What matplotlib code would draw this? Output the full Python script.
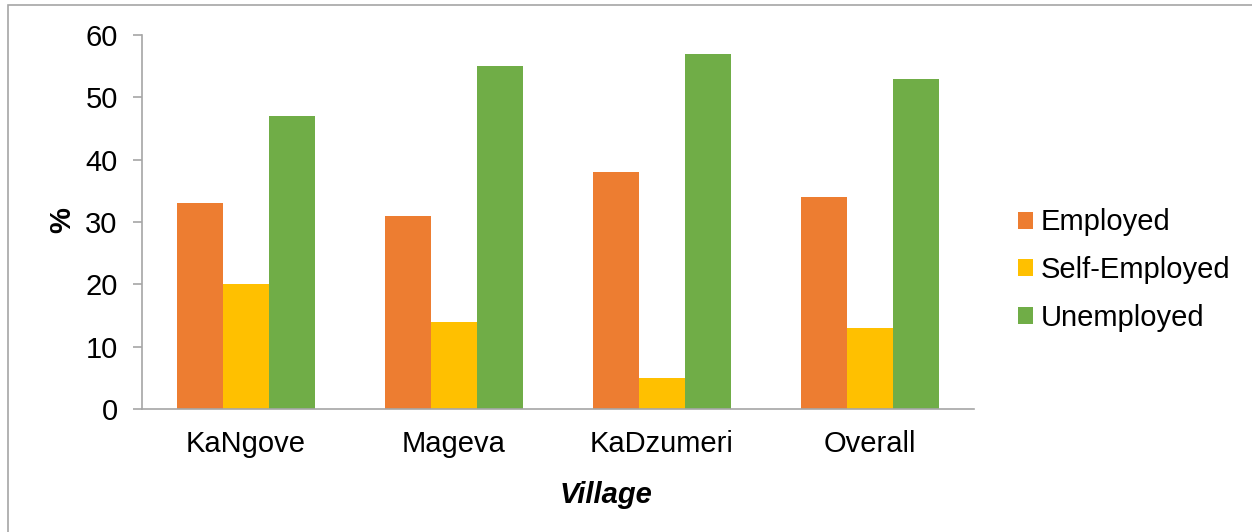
import numpy as np
from matplotlib import pyplot as plt
from matplotlib.patches import Rectangle

# Data
villages = ["KaNgove", "Mageva", "KaDzumeri", "Overall"]
employed = [33, 31, 38, 34]
self_employed = [20, 14, 5, 13]
unemployed = [47, 55, 57, 53]

series = [
    ("Employed", employed, "#ED7D31"),
    ("Self-Employed", self_employed, "#FFC000"),
    ("Unemployed", unemployed, "#70AD47"),
]

plt.rcParams['font.family'] = ['Liberation Sans', 'DejaVu Sans']
FS = 21

W, H = 1252, 532
fig = plt.figure(figsize=(W / 100, H / 100), dpi=100)
ax = fig.add_axes([142 / W, 1 - 409 / H, (974 - 142) / W, (409 - 35) / H])

# Outer chart border (gray frame)
fig.patches.append(Rectangle((8 / W, -0.1), 1.1, 1 - 5 / H + 0.1,
                             transform=fig.transFigure, fill=False,
                             edgecolor="#A6A6A6", linewidth=1.2))

x = np.arange(len(villages))
bar_w = 0.221
for i, (name, vals, color) in enumerate(series):
    ax.bar(x + (i - 1) * bar_w, vals, width=bar_w, color=color, label=name)

ax.set_xlim(-0.5, len(villages) - 0.5)
ax.set_ylim(0, 60)
ax.set_yticks(range(0, 61, 10))
ax.set_xticks(x)
ax.set_xticklabels(villages)

for side in ["top", "right"]:
    ax.spines[side].set_visible(False)
for side in ["left", "bottom"]:
    ax.spines[side].set_color("#A6A6A6")
    ax.spines[side].set_linewidth(1.2)

ax.tick_params(axis="y", length=6.5, width=1.2, color="#A6A6A6", pad=11, labelsize=FS)
ax.tick_params(axis="x", length=0, pad=15, labelsize=FS)

fig.text(62 / W, 1 - 220 / H, "%", rotation=90, fontsize=FS, fontweight="bold",
         ha="center", va="center")
fig.text(606 / W, 1 - 495 / H, "Village", fontsize=FS, fontweight="bold",
         fontstyle="italic", ha="center", va="center")

ax.legend(loc="center left", bbox_to_anchor=(1018 / W, 1 - 270 / H),
          bbox_transform=fig.transFigure, frameon=False, fontsize=FS,
          borderpad=0, borderaxespad=0,
          handlelength=0.51, handleheight=0.51, handletextpad=0.28,
          labelspacing=0.67)

fig.savefig("out.png", dpi=100)
